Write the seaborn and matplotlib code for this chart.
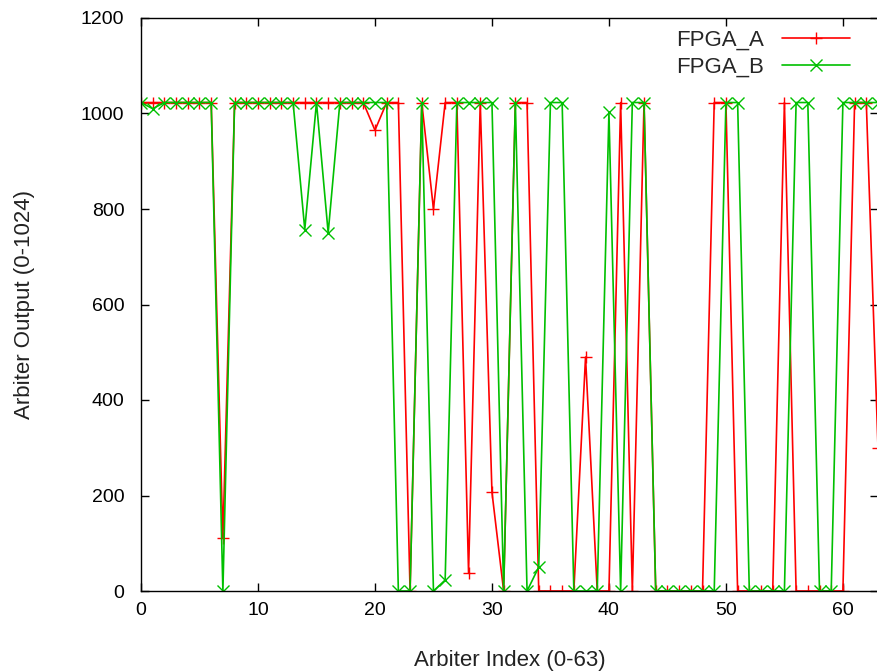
import matplotlib
matplotlib.use("Agg")
import matplotlib.pyplot as plt
import seaborn as sns
import pandas as pd
from matplotlib.lines import Line2D

# ---- data ----
arbiter_index = list(range(64))
fpga_a = [1023, 1023, 1023, 1023, 1023, 1023, 1023, 110, 1023, 1023,
          1023, 1023, 1023, 1023, 1023, 1023, 1023, 1023, 1023, 1023,
          965, 1023, 1023, 0, 1023, 800, 1023, 1023, 38, 1023,
          207, 0, 1023, 1023, 0, 0, 0, 0, 490, 0,
          0, 1023, 0, 1023, 0, 0, 0, 0, 0, 1023,
          1023, 0, 0, 0, 0, 1023, 0, 0, 0, 0,
          0, 1023, 1023, 300]
fpga_b = [1023, 1010, 1023, 1023, 1023, 1023, 1023, 0, 1023, 1023,
          1023, 1023, 1023, 1023, 757, 1023, 750, 1023, 1023, 1023,
          1023, 1023, 0, 0, 1023, 0, 23, 1023, 1023, 1023,
          1023, 0, 1023, 0, 50, 1023, 1023, 0, 0, 0,
          1003, 0, 1023, 1023, 0, 0, 0, 0, 0, 0,
          1023, 1023, 0, 0, 0, 0, 1023, 1023, 0, 0,
          1023, 1023, 1023, 1023]
series_names = ["FPGA_A", "FPGA_B"]
x_ticks = [0, 10, 20, 30, 40, 50, 60]
y_ticks = [0, 200, 400, 600, 800, 1000, 1200]

df = pd.DataFrame({
    "idx": arbiter_index * 2,
    "val": fpga_a + fpga_b,
    "fpga": [series_names[0]] * 64 + [series_names[1]] * 64,
})

sns.set_theme(style="white")
plt.rcParams["font.family"] = ["Liberation Sans", "DejaVu Sans"]

W, H = 877, 671
fig = plt.figure(figsize=(W / 100, H / 100), dpi=100)
ax = fig.add_axes([141 / W, (H - 591) / H, (878 - 141) / W, (591 - 18) / H])

colors = ["#ff0000", "#00c000"]
markers = ["+", "x"]
sns.lineplot(data=df, x="idx", y="val", hue="fpga", style="fpga",
             markers=markers, dashes=False, palette=colors,
             linewidth=1.2, markersize=8, markeredgewidth=1.0,
             ax=ax, legend=False)
for ln in ax.lines:
    ln.set_markeredgecolor(ln.get_color())
    ln.set_markerfacecolor(ln.get_color())

ax.set_xlim(0, 63)
ax.set_ylim(0, 1200)
ax.set_xticks(x_ticks)
ax.set_yticks(y_ticks)
ax.tick_params(direction="in", length=6, width=1, colors="black",
               labelsize=14, top=True, right=True, bottom=True, left=True)
ax.tick_params(axis="y", pad=12)
ax.tick_params(axis="x", pad=8)
for s in ax.spines.values():
    s.set_visible(True)
    s.set_color("black")
    s.set_linewidth(1.0)

ax.set_xlabel("Arbiter Index (0-63)", fontsize=16, labelpad=22, color="#222222")
ax.set_ylabel("Arbiter Output (0-1024)", fontsize=16, labelpad=33, color="#222222")

handles = [Line2D([], [], color=colors[i], marker=markers[i], markersize=8,
                  lw=1.2, mew=1.0) for i in range(2)]
ax.legend(handles, series_names, loc="upper right", frameon=False,
          markerfirst=False, handlelength=3.05, fontsize=16,
          bbox_to_anchor=(0.962, 0.98), borderaxespad=0, borderpad=0,
          labelspacing=0.28, handletextpad=0.8)

fig.savefig("out.png", dpi=100)
